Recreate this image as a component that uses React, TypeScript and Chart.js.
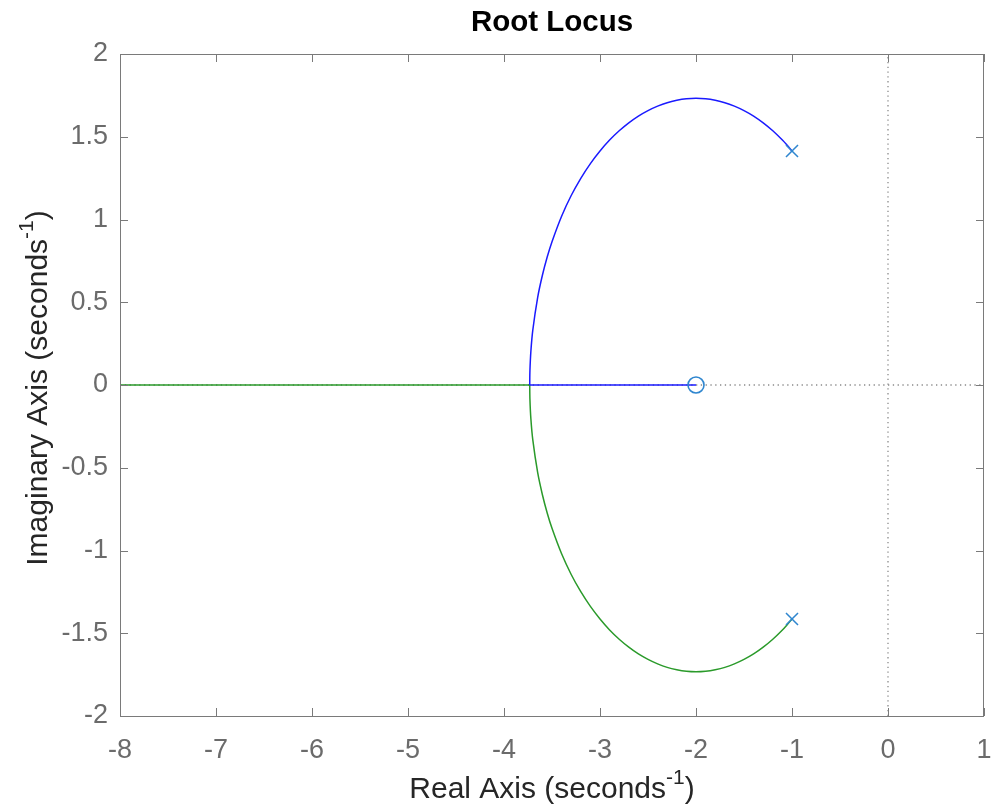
import React, { useEffect, useRef } from "react";
import { Chart, registerables } from "chart.js";

Chart.register(...registerables);

// ---- Data ----
const upperArcRe = [-1.0, -1.05, -1.1, -1.2, -1.3, -1.4, -1.5, -1.6, -1.7, -1.8, -1.9, -2.0, -2.1, -2.2, -2.3, -2.4, -2.5, -2.6, -2.7, -2.8, -2.9, -3.0, -3.1, -3.2, -3.3, -3.4, -3.5, -3.55, -3.6, -3.65, -3.7, -3.72, -3.73, -3.732];
const upperArcIm = [1.414, 1.448, 1.48, 1.536, 1.584, 1.625, 1.658, 1.685, 1.706, 1.72, 1.729, 1.732, 1.729, 1.72, 1.706, 1.685, 1.658, 1.625, 1.584, 1.536, 1.48, 1.414, 1.338, 1.249, 1.145, 1.02, 0.866, 0.773, 0.663, 0.527, 0.332, 0.204, 0.084, 0.0];
const lowerArcRe = [-1.0, -1.05, -1.1, -1.2, -1.3, -1.4, -1.5, -1.6, -1.7, -1.8, -1.9, -2.0, -2.1, -2.2, -2.3, -2.4, -2.5, -2.6, -2.7, -2.8, -2.9, -3.0, -3.1, -3.2, -3.3, -3.4, -3.5, -3.55, -3.6, -3.65, -3.7, -3.72, -3.73, -3.732];
const lowerArcIm = [-1.414, -1.448, -1.48, -1.536, -1.584, -1.625, -1.658, -1.685, -1.706, -1.72, -1.729, -1.732, -1.729, -1.72, -1.706, -1.685, -1.658, -1.625, -1.584, -1.536, -1.48, -1.414, -1.338, -1.249, -1.145, -1.02, -0.866, -0.773, -0.663, -0.527, -0.332, -0.204, -0.084, 0.0];
const blueRealRe = [-3.732, -2.0];
const blueRealIm = [0, 0];
const greenRealRe = [-3.732, -8.0];
const greenRealIm = [0, 0];
const poleRe = [-1, -1];
const poleIm = [1.414, -1.414];
const zeroRe = [-2];
const zeroIm = [0];
const xTicks = [-8, -7, -6, -5, -4, -3, -2, -1, 0, 1];
const yTicks = [-2, -1.5, -1, -0.5, 0, 0.5, 1, 1.5, 2];
const hGuideRe = [-8, 1];
const hGuideIm = [0, 0];
const vGuideRe = [0, 0];
const vGuideIm = [-2, 2];

const TITLE = "Root Locus";
const X_LABEL = "Real Axis (seconds";
const Y_LABEL = "Imaginary Axis (seconds";
const SUP = "-1";

const FONT = '"Liberation Sans", Arial, Helvetica, sans-serif';
const LABEL_SIZE = 30;
const SUP_SIZE = 21;

const pts = (xs: number[], ys: number[]) => xs.map((x, i) => ({ x, y: ys[i] }));

function drawLabel(ctx: CanvasRenderingContext2D, text: string, cx: number, baseY: number) {
  ctx.font = `${LABEL_SIZE}px ${FONT}`;
  const w1 = ctx.measureText(text).width;
  ctx.font = `${SUP_SIZE}px ${FONT}`;
  const w2 = ctx.measureText(SUP).width;
  ctx.font = `${LABEL_SIZE}px ${FONT}`;
  const w3 = ctx.measureText(")").width;
  const total = w1 + w2 + w3;
  let x = cx - total / 2;
  ctx.textAlign = "left";
  ctx.textBaseline = "alphabetic";
  ctx.fillText(text, x, baseY);
  x += w1;
  ctx.font = `${SUP_SIZE}px ${FONT}`;
  ctx.fillText(SUP, x, baseY - 14);
  x += w2;
  ctx.font = `${LABEL_SIZE}px ${FONT}`;
  ctx.fillText(")", x, baseY);
}

const decorPlugin = {
  id: "decor",
  afterDatasetsDraw(chart: any) {
    const { ctx, chartArea, scales } = chart;
    const { left, right, top, bottom } = chartArea;
    ctx.save();
    ctx.strokeStyle = "#7a7a7a";
    ctx.lineWidth = 1;
    ctx.strokeRect(left + 0.5, top + 0.5, right - left - 1, bottom - top);
    const tl = 8;
    ctx.beginPath();
    for (const v of xTicks) {
      const px = Math.round(scales.x.getPixelForValue(v)) + 0.5;
      ctx.moveTo(px, bottom);
      ctx.lineTo(px, bottom - tl);
      ctx.moveTo(px, top);
      ctx.lineTo(px, top + tl);
    }
    for (const v of yTicks) {
      const py = Math.round(scales.y.getPixelForValue(v)) + 0.5;
      ctx.moveTo(left, py);
      ctx.lineTo(left + tl, py);
      ctx.moveTo(right, py);
      ctx.lineTo(right - tl, py);
    }
    ctx.stroke();

    // title
    ctx.fillStyle = "#000000";
    ctx.font = `bold 29.5px ${FONT}`;
    ctx.textAlign = "center";
    ctx.textBaseline = "alphabetic";
    ctx.fillText(TITLE, (left + right) / 2, 31);

    // axis titles
    ctx.fillStyle = "#262626";
    drawLabel(ctx, X_LABEL, (left + right) / 2, 798);
    ctx.save();
    ctx.translate(47, (top + bottom) / 2 + 3);
    ctx.rotate(-Math.PI / 2);
    drawLabel(ctx, Y_LABEL, 0, 0);
    ctx.restore();
    ctx.restore();
  },
};

export default function App() {
  const ref = useRef<HTMLCanvasElement | null>(null);
  useEffect(() => {
    if (!ref.current) return;
    const blue = "#1a1aff";
    const green = "#2a9a2a";
    const marker = "#2f86cf";
    const chart = new Chart(ref.current, {
      type: "scatter",
      data: {
        datasets: [
          {
            data: pts(hGuideRe, hGuideIm),
            showLine: true,
            borderColor: "#8a8a8a",
            borderWidth: 1.3,
            borderDash: [1.3, 3.5],
            pointRadius: 0,
            order: 6,
          },
          {
            data: pts(vGuideRe, vGuideIm),
            showLine: true,
            borderColor: "#8a8a8a",
            borderWidth: 1.3,
            borderDash: [1.3, 3.5],
            pointRadius: 0,
            order: 6,
          },
          {
            data: pts(lowerArcRe, lowerArcIm),
            showLine: true,
            borderColor: green,
            borderWidth: 1.5,
            pointRadius: 0,
            tension: 0.3,
            order: 4,
          },
          {
            data: pts(greenRealRe, greenRealIm),
            showLine: true,
            borderColor: green,
            borderWidth: 1.5,
            pointRadius: 0,
            order: 4,
          },
          {
            data: pts(upperArcRe, upperArcIm),
            showLine: true,
            borderColor: blue,
            borderWidth: 1.5,
            pointRadius: 0,
            tension: 0.3,
            order: 3,
          },
          {
            data: pts(blueRealRe, blueRealIm),
            showLine: true,
            borderColor: blue,
            borderWidth: 1.5,
            pointRadius: 0,
            order: 3,
          },
          {
            data: pts(poleRe, poleIm),
            showLine: false,
            pointStyle: "crossRot",
            pointRadius: 8.5,
            pointBorderColor: marker,
            pointBorderWidth: 1.5,
            pointBackgroundColor: "transparent",
            order: 1,
          },
          {
            data: pts(zeroRe, zeroIm),
            showLine: false,
            pointStyle: "circle",
            pointRadius: 8,
            pointBorderColor: marker,
            pointBorderWidth: 1.6,
            pointBackgroundColor: "transparent",
            order: 1,
          },
        ],
      },
      options: {
        animation: false,
        responsive: false,
        maintainAspectRatio: false,
        layout: { padding: { top: 54, right: 9, left: 0, bottom: 0 } },
        plugins: {
          legend: { display: false },
          tooltip: { enabled: false },
          title: { display: false },
        },
        scales: {
          x: {
            type: "linear",
            min: -8,
            max: 1,
            afterBuildTicks: (s: any) => {
              s.ticks = xTicks.map((v) => ({ value: v }));
            },
            afterFit: (s: any) => {
              s.height = 96;
              s.paddingLeft = 0;
              s.paddingRight = 0;
            },
            grid: { display: false, drawTicks: false },
            border: { display: false },
            ticks: {
              padding: 18,
              color: "#6b6b6b",
              font: { family: FONT, size: 27 },
              maxRotation: 0,
              autoSkip: false,
              callback: (v: any) => String(v),
            },
          },
          y: {
            type: "linear",
            min: -2,
            max: 2,
            afterBuildTicks: (s: any) => {
              s.ticks = yTicks.map((v) => ({ value: v }));
            },
            afterFit: (s: any) => {
              s.width = 120;
              s.paddingTop = 0;
              s.paddingBottom = 0;
            },
            grid: { display: false, drawTicks: false },
            border: { display: false },
            ticks: {
              padding: 12,
              color: "#6b6b6b",
              font: { family: FONT, size: 27 },
              autoSkip: false,
              callback: (v: any) => String(v),
            },
          },
        },
      },
      plugins: [decorPlugin],
    } as any);
    return () => chart.destroy();
  }, []);
  return (
    <div style={{ position: "fixed", left: 0, top: 0, width: 994, height: 812, background: "#fff" }}>
      <canvas ref={ref} width={994} height={812} style={{ display: "block", width: 994, height: 812 }} />
    </div>
  );
}
